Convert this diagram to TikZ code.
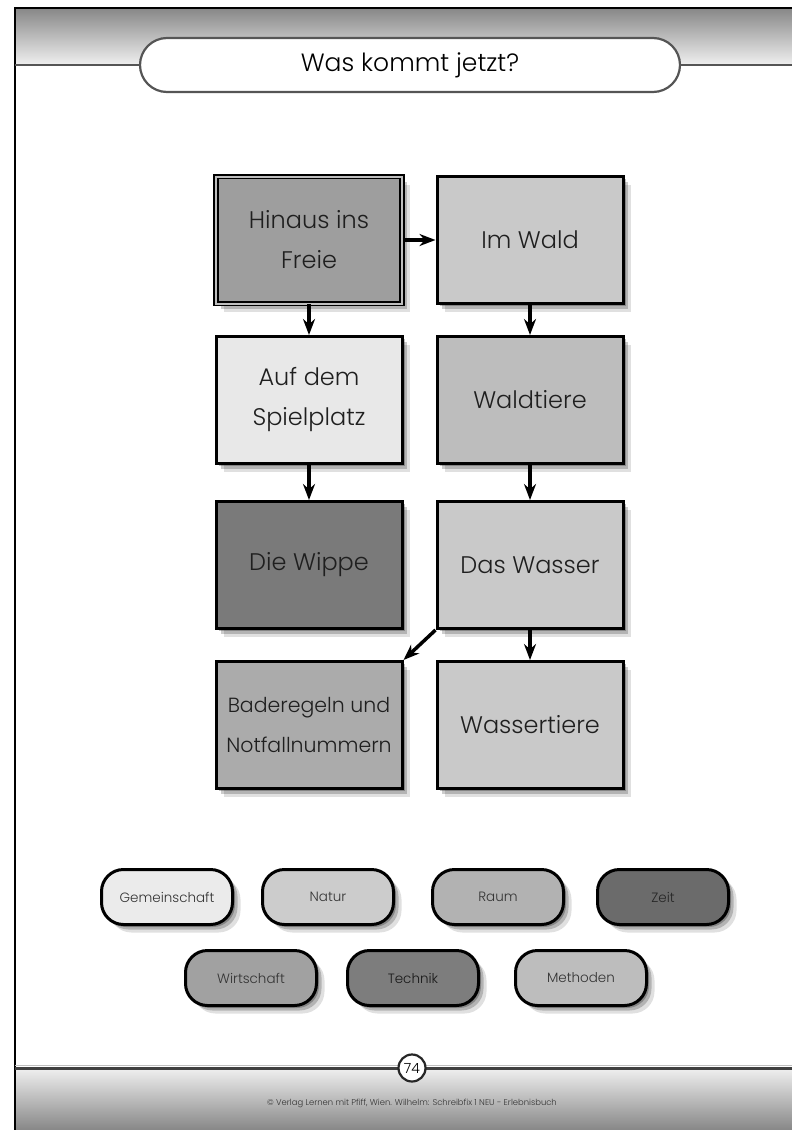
\documentclass[tikz,border=0pt]{standalone}
\usepackage{fontspec}
\setmainfont{Poppins Light}
\usetikzlibrary{arrows.meta, positioning, shadows}

\definecolor{rahmen}{HTML}{555555}
\definecolor{bandhell}{HTML}{EEEEEE}
\definecolor{banddunkel}{HTML}{878787}

\begin{document}
\begin{tikzpicture}[x=1pt, y=-1pt,
  soft/.style={drop shadow={shadow xshift=2.5pt,shadow yshift=-2.5pt,opacity=.25,fill=black},
               drop shadow={shadow xshift=5pt,shadow yshift=-5pt,opacity=.2,fill=black},
               drop shadow={shadow xshift=8pt,shadow yshift=-8pt,opacity=.12,fill=black}},
  topic/.style={draw=black, line width=3pt, minimum width=186pt, minimum height=127pt,
                align=center, text=black!88, font=\fontsize{24}{40}\selectfont, soft},
  tag/.style={draw=black, line width=3pt, rounded corners=22pt, minimum width=131pt,
              minimum height=55pt, text=black!80, font=\fontsize{13.5}{15}\selectfont, soft},
  link/.style={-{Stealth[length=16pt,width=12pt]}, line width=3.5pt, black}]
  \useasboundingbox (0,0) rectangle (792,1130);
  \fill[white] (0,0) rectangle (792,1130);
  % header and footer bands
  \shade[top color=banddunkel, bottom color=bandhell] (15,8) rectangle (792,64);
  \shade[top color=bandhell, bottom color=banddunkel] (15,1069) rectangle (792,1130);
  % page frame
  \draw[black, line width=2.5pt] (15,1130) -- (15,8) -- (792,8);
  % title
  \coordinate (kopfL) at (15,65);
  \coordinate (kopfR) at (792,65);
  \node[draw=rahmen, line width=2.2pt, fill=white, rounded corners=27pt,
        minimum width=540pt, minimum height=54pt,
        font=\fontsize{25}{28}\selectfont] (title) at (410,65) {Was kommt jetzt?};
  \draw[rahmen, line width=2.5pt] (kopfL) -- (title.west);
  \draw[rahmen, line width=2.5pt] (title.east) -- (kopfR);
  % footer
  \coordinate (fussL) at (15,1068);
  \coordinate (fussR) at (792,1068);
  \draw[black!25, line width=1pt] (15,1065) -- (792,1065);
  \draw[black!75, line width=3pt] (fussL) -- (fussR);
  \node[circle, draw=black!85, line width=2.2pt, fill=white, minimum size=27pt, inner sep=0pt,
        font=\fontsize{14}{14}\selectfont] (seite) at (412,1068) {74};
  \node[text=black!80, font=\fontsize{8.4}{9}\selectfont] (verlag) at (412,1103)
    {© Verlag Lernen mit Pfiff, Wien. Wilhelm: Schreibfix 1 NEU - Erlebnisbuch};
  % topic boxes
  \node[topic, fill=black!38, double=black!25, double distance=2pt, line width=1.8pt]
    (hinaus) at (309,240) {Hinaus ins\\Freie};
  \node[topic, fill=black!21] (wald) at (530,240) {Im Wald};
  \node[topic, fill=black!9] (spielplatz) at (309,400) {Auf dem\\Spielplatz};
  \node[topic, fill=black!26] (waldtiere) at (530,400) {Waldtiere};
  \node[topic, fill=black!52] (wippe) at (309,565) {Die Wippe};
  \node[topic, fill=black!21] (wasser) at (530,565) {Das Wasser};
  \node[topic, fill=black!33, font=\fontsize{20.5}{40}\selectfont]
    (baderegeln) at (309,725) {Baderegeln und\\Notfallnummern};
  \node[topic, fill=black!21] (wassertiere) at (530,725) {Wassertiere};
  % links
  \draw[link] (hinaus.east) -- (wald.west);
  \draw[link] (hinaus.south) -- (spielplatz.north);
  \draw[link] (wald.south) -- (waldtiere.north);
  \draw[link] (spielplatz.south) -- (wippe.north);
  \draw[link] (waldtiere.south) -- (wasser.north);
  \draw[link] (wasser.south) -- (wassertiere.north);
  \draw[link] (wasser.south west) -- (baderegeln.north east);
  % subject tags
  \node[tag, fill=black!8] (gemeinschaft) at (167,897) {Gemeinschaft};
  \node[tag, fill=black!20] (natur) at (328,897) {Natur};
  \node[tag, fill=black!30] (raum) at (498,897) {Raum};
  \node[tag, fill=black!58, text=black!85] (zeit) at (663,897) {Zeit};
  \node[tag, fill=black!37] (wirtschaft) at (251,978) {Wirtschaft};
  \node[tag, fill=black!51, text=black!90] (technik) at (413,978) {Technik};
  \node[tag, fill=black!26] (methoden) at (581,978) {Methoden};
\end{tikzpicture}
\end{document}
